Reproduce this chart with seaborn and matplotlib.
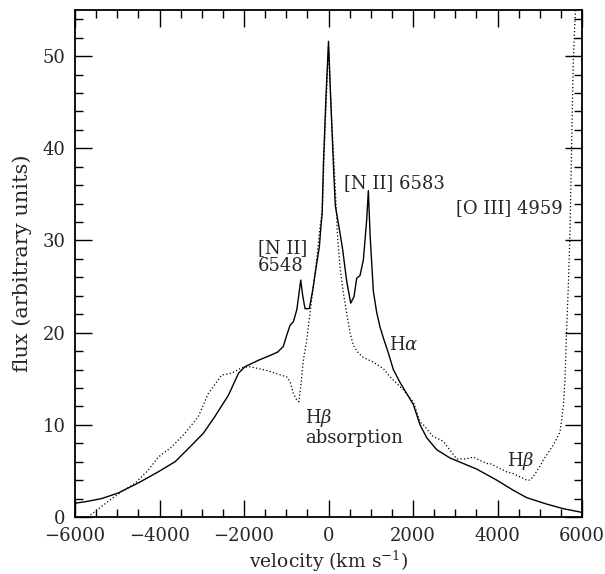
import numpy as np
import pandas as pd
import seaborn as sns
import matplotlib
matplotlib.use("Agg")
import matplotlib.pyplot as plt
from matplotlib.ticker import MultipleLocator

# H-alpha profile (solid)
ha_velocity = [-6000, -5760, -5370, -4980, -4500, -4030, -3630, -3280, -2960, -2690,
               -2370, -2130, -1980, -1660, -1345, -1200, -1070, -990, -910, -830,
               -750, -700, -658, -610, -556, -454, -374, -280, -217, -180,
               -150, -120, -60, 0, 50, 114, 160, 190, 272, 335,
               430, 525, 603, 667, 746, 825, 903, 943, 985, 1061,
               1140, 1219, 1314, 1416, 1534, 1692, 1850, 2008, 2166, 2324,
               2561, 2876, 3191, 3507, 3981, 4374, 4690, 5164, 5558, 6000]
ha_flux = [1.5, 1.65, 2.0, 2.6, 3.7, 4.9, 6.0, 7.6, 9.1, 10.9,
           13.2, 15.6, 16.3, 17.0, 17.6, 17.9, 18.5, 19.7, 20.8, 21.2,
           22.5, 24.2, 25.7, 24.0, 22.6, 22.6, 24.6, 27.5, 29.3, 31.5,
           33.0, 38.4, 45.6, 51.6, 45.6, 38.4, 33.8, 33.0, 30.8, 29.0,
           25.6, 23.2, 23.9, 25.9, 26.2, 27.9, 32.2, 35.4, 30.5, 24.5,
           22.2, 20.6, 19.2, 17.8, 16.0, 14.6, 13.4, 12.2, 10.0, 8.6,
           7.3, 6.4, 5.8, 5.2, 4.0, 2.9, 2.1, 1.4, 0.9, 0.5]

# H-beta profile (dotted)
hb_velocity = [-5700, -5527, -5212, -4896, -4580, -4265, -4028, -3712, -3396, -3081,
               -2845, -2528, -2292, -2055, -1858, -1463, -1200, -990, -911, -833,
               -753, -700, -650, -596, -517, -438, -360, -280, -201, -150,
               -83, 0, 60, 130, 190, 209, 272, 351, 430, 509,
               588, 706, 825, 1061, 1298, 1456, 1614, 1771, 1929, 2008,
               2166, 2245, 2481, 2639, 2718, 3034, 3250, 3428, 3744, 3822,
               4218, 4374, 4691, 4769, 4848, 5006, 5085, 5321, 5479, 5558,
               5598, 5637, 5676, 5716, 5755, 5795, 5834, 5860]
hb_flux = [0.0, 0.6, 1.7, 2.75, 3.65, 5.1, 6.5, 7.6, 9.1, 10.9,
           13.4, 15.4, 15.6, 16.2, 16.3, 15.9, 15.5, 15.2, 14.7, 13.4,
           12.7, 12.5, 14.5, 17.0, 19.2, 22.1, 25.0, 27.9, 31.5, 33.0,
           42.0, 51.0, 44.5, 38.4, 32.8, 30.8, 27.1, 24.3, 22.1, 20.0,
           18.6, 17.8, 17.3, 16.8, 16.1, 15.2, 14.5, 13.8, 12.9, 12.5,
           10.3, 10.0, 8.7, 8.4, 8.2, 6.3, 6.3, 6.5, 5.8, 5.8,
           4.9, 4.7, 4.0, 4.0, 4.4, 5.5, 6.2, 7.8, 9.2, 12.0,
           15.0, 20.5, 25.0, 31.0, 40.5, 49.6, 53.9, 56.0]

x_ticks = [-6000, -4000, -2000, 0, 2000, 4000, 6000]
y_ticks = [0, 10, 20, 30, 40, 50]

sns.set_style("ticks")
plt.rcParams["font.family"] = ["DejaVu Serif"]
plt.rcParams["mathtext.fontset"] = "dejavuserif"

fig = plt.figure(figsize=(6.05, 5.74), dpi=100)
ax = fig.add_axes([0.124, 0.0993, 0.838, 0.8833])

ha_df = pd.DataFrame({"velocity": ha_velocity, "flux": ha_flux})
hb_df = pd.DataFrame({"velocity": hb_velocity, "flux": hb_flux})

sns.lineplot(data=ha_df, x="velocity", y="flux", ax=ax, color="black",
             linewidth=1.0, estimator=None, sort=False)
sns.lineplot(data=hb_df, x="velocity", y="flux", ax=ax, color="black",
             linewidth=0.9, linestyle=(0, (1, 1.8)), estimator=None, sort=False)

ax.set_xlim(-6000, 6000)
ax.set_ylim(0, 55)
ax.set_xticks(x_ticks)
ax.set_yticks(y_ticks)
ax.xaxis.set_minor_locator(MultipleLocator(500))
ax.yaxis.set_minor_locator(MultipleLocator(2))
ax.tick_params(which="both", direction="in", top=True, right=True,
               labeltop=False, labelright=False, width=1.0, color="black")
ax.tick_params(which="major", length=12, labelsize=13, pad=7)
ax.tick_params(which="minor", length=6)
for s in ax.spines.values():
    s.set_linewidth(1.3)
    s.set_color("black")

ax.set_xlabel(r"velocity (km s$^{-1}$)", fontsize=13.5)
ax.set_ylabel("flux (arbitrary units)", fontsize=15)
ax.xaxis.set_label_coords(0.5, -0.062)
ax.yaxis.set_label_coords(-0.085, 0.5)

fs = 13
ax.text(-1670, 26.2, "[N II]\n6548", fontsize=fs, ha="left", va="bottom",
        linespacing=1.0)
ax.text(367, 36.2, "[N II] 6583", fontsize=fs, ha="left", va="center")
ax.text(3018, 33.5, "[O III] 4959", fontsize=fs, ha="left", va="center")
ax.text(1432, 18.7, r"H$\alpha$", fontsize=fs, ha="left", va="center")
ax.text(-556, 10.7, r"H$\beta$", fontsize=fs, ha="left", va="center")
ax.text(-556, 8.6, "absorption", fontsize=fs, ha="left", va="center")
ax.text(4225, 6.1, r"H$\beta$", fontsize=fs, ha="left", va="center")

fig.savefig("out.png", dpi=100)
